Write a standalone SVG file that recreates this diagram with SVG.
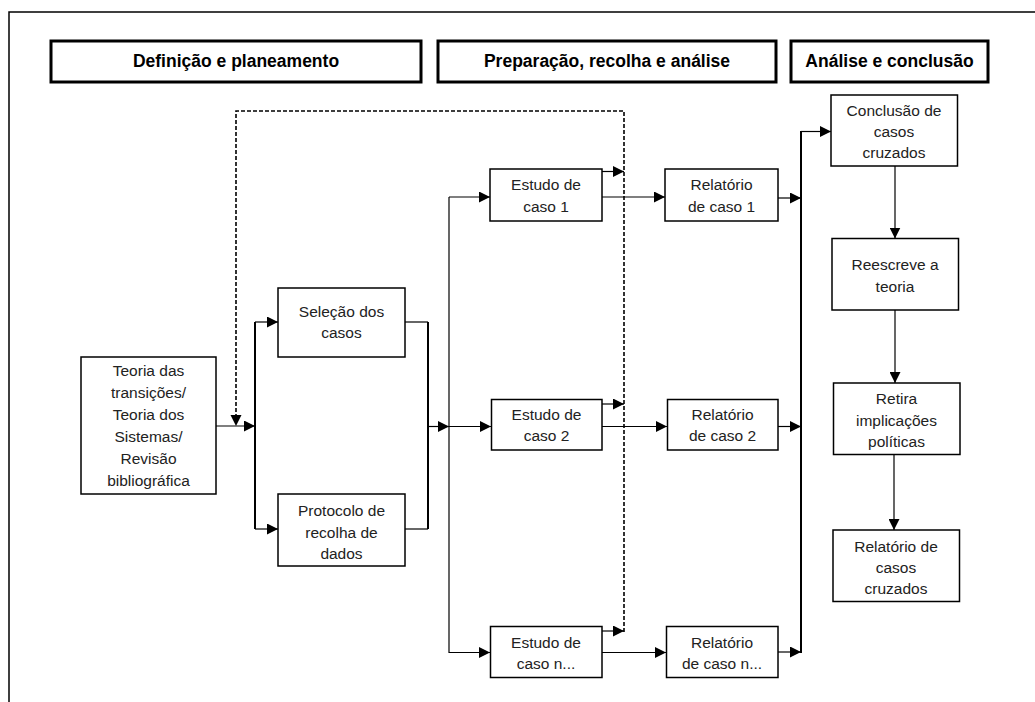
<svg xmlns="http://www.w3.org/2000/svg" width="1035" height="702" viewBox="0 0 1035 702">
<defs>
<marker id="ah" markerUnits="userSpaceOnUse" markerWidth="11" markerHeight="11" refX="11" refY="5.5" orient="auto">
<path d="M0,0 L11,5.5 L0,11 z" fill="#000"/>
</marker>
<style>
.hdr{fill:#fff;stroke:#000;stroke-width:3}
.hdrt{font-family:"Liberation Sans",Arial,sans-serif;font-size:17.5px;font-weight:bold;text-anchor:middle;fill:#000}
.box{fill:#fff;stroke:#000;stroke-width:1.5}
.t{font-family:"Liberation Sans",Arial,sans-serif;font-size:15.5px;text-anchor:middle;fill:#222}
.c{fill:none;stroke:#000;stroke-width:1.2}
.v{fill:none;stroke:#000;stroke-width:2}
.d{fill:none;stroke:#000;stroke-width:1.6;stroke-dasharray:4 2}
.a{marker-end:url(#ah)}
</style>
</defs>
<rect width="1035" height="702" fill="#fff"/>
<path d="M9,702 V12 H1035" fill="none" stroke="#000" stroke-width="1.5"/>

<g id="header1"><rect class="hdr" x="51" y="41" width="370" height="41"/><text class="hdrt" x="236" y="67">Definição e planeamento</text></g>
<g id="header2"><rect class="hdr" x="438" y="41" width="338" height="41"/><text class="hdrt" x="607" y="67">Preparação, recolha e análise</text></g>
<g id="header3"><rect class="hdr" x="791" y="41" width="197" height="41"/><text class="hdrt" x="889.5" y="67">Análise e conclusão</text></g>

<g id="connectors">
<path class="d" d="M624,632 V111 H236 V415"/>
<path d="M230.5,415 L241.5,415 L236,426 z" fill="#000"/>
<path class="c a" d="M216,426 H255"/>
<path class="v" d="M255,322 V529"/>
<path class="c a" d="M255,322 H278"/>
<path class="c a" d="M255,529 H278"/>
<path class="c" d="M405,322 H428"/>
<path class="c" d="M405,529 H428"/>
<path class="v" d="M428,322 V529"/>
<path class="c a" d="M428,426.5 H449"/>
<path class="c" d="M449,197 V653"/>
<path class="c a" d="M449,197 H490"/>
<path class="c a" d="M449,426.5 H491"/>
<path class="c a" d="M449,652.5 H490"/>
<path class="c a" d="M602,171.5 H624"/>
<path class="c a" d="M602,404 H624"/>
<path class="c a" d="M602,631 H624"/>
<path class="c a" d="M602,197 H665"/>
<path class="c a" d="M602,426.5 H667"/>
<path class="c a" d="M602,652.5 H666"/>
<path class="c a" d="M778,198 H801"/>
<path class="c a" d="M778,426.5 H801"/>
<path class="c a" d="M778,652 H801"/>
<path class="v" d="M801,131 V653"/>
<path class="c a" d="M801,131.5 H831"/>
<path class="c a" d="M895,166 V238.5"/>
<path class="c a" d="M895,310 V383"/>
<path class="c a" d="M894,455 V530"/>
</g>

<g id="teoria"><rect class="box" x="81" y="357" width="135" height="137"/>
<text class="t" x="148.5" y="375.5">Teoria das</text>
<text class="t" x="148.5" y="397.5">transições/</text>
<text class="t" x="148.5" y="419.5">Teoria dos</text>
<text class="t" x="148.5" y="441.5">Sistemas/</text>
<text class="t" x="148.5" y="463.5">Revisão</text>
<text class="t" x="148.5" y="485.5">bibliográfica</text></g>

<g id="selecao"><rect class="box" x="278" y="288" width="127" height="69"/>
<text class="t" x="341.5" y="317">Seleção dos</text>
<text class="t" x="341.5" y="338">casos</text></g>

<g id="protocolo"><rect class="box" x="278" y="494" width="127" height="72"/>
<text class="t" x="341.5" y="516">Protocolo de</text>
<text class="t" x="341.5" y="537.5">recolha de</text>
<text class="t" x="341.5" y="558.5">dados</text></g>

<g id="estudo1"><rect class="box" x="490" y="169" width="112" height="52"/>
<text class="t" x="546" y="190">Estudo de</text>
<text class="t" x="546" y="211.5">caso 1</text></g>

<g id="estudo2"><rect class="box" x="491.5" y="399.5" width="110.5" height="50.5"/>
<text class="t" x="546.5" y="420">Estudo de</text>
<text class="t" x="546.5" y="441">caso 2</text></g>

<g id="estudon"><rect class="box" x="490.5" y="626.5" width="111.5" height="51"/>
<text class="t" x="546" y="647.5">Estudo de</text>
<text class="t" x="546" y="669">caso n...</text></g>

<g id="relatorio1"><rect class="box" x="665" y="169" width="113" height="52"/>
<text class="t" x="721.5" y="190">Relatório</text>
<text class="t" x="721.5" y="211.5">de caso 1</text></g>

<g id="relatorio2"><rect class="box" x="667.5" y="399.5" width="110.5" height="50.5"/>
<text class="t" x="722.5" y="420">Relatório</text>
<text class="t" x="722.5" y="441">de caso 2</text></g>

<g id="relatorion"><rect class="box" x="666.5" y="626.5" width="111.5" height="51"/>
<text class="t" x="722" y="647.5">Relatório</text>
<text class="t" x="722" y="669">de caso n...</text></g>

<g id="conclusao"><rect class="box" x="831" y="95" width="126.5" height="71"/>
<text class="t" x="894" y="116">Conclusão de</text>
<text class="t" x="894" y="137">casos</text>
<text class="t" x="894" y="158">cruzados</text></g>

<g id="reescreve"><rect class="box" x="832" y="238.5" width="126.5" height="71.5"/>
<text class="t" x="895" y="270">Reescreve a</text>
<text class="t" x="895" y="291.5">teoria</text></g>

<g id="retira"><rect class="box" x="833.5" y="383" width="126.5" height="71.5"/>
<text class="t" x="896.5" y="404">Retira</text>
<text class="t" x="896.5" y="425.5">implicações</text>
<text class="t" x="896.5" y="446.5">políticas</text></g>

<g id="relatoriocruzados"><rect class="box" x="833" y="530" width="126.5" height="71.5"/>
<text class="t" x="896" y="551.5">Relatório de</text>
<text class="t" x="896" y="572.5">casos</text>
<text class="t" x="896" y="594">cruzados</text></g>
</svg>
